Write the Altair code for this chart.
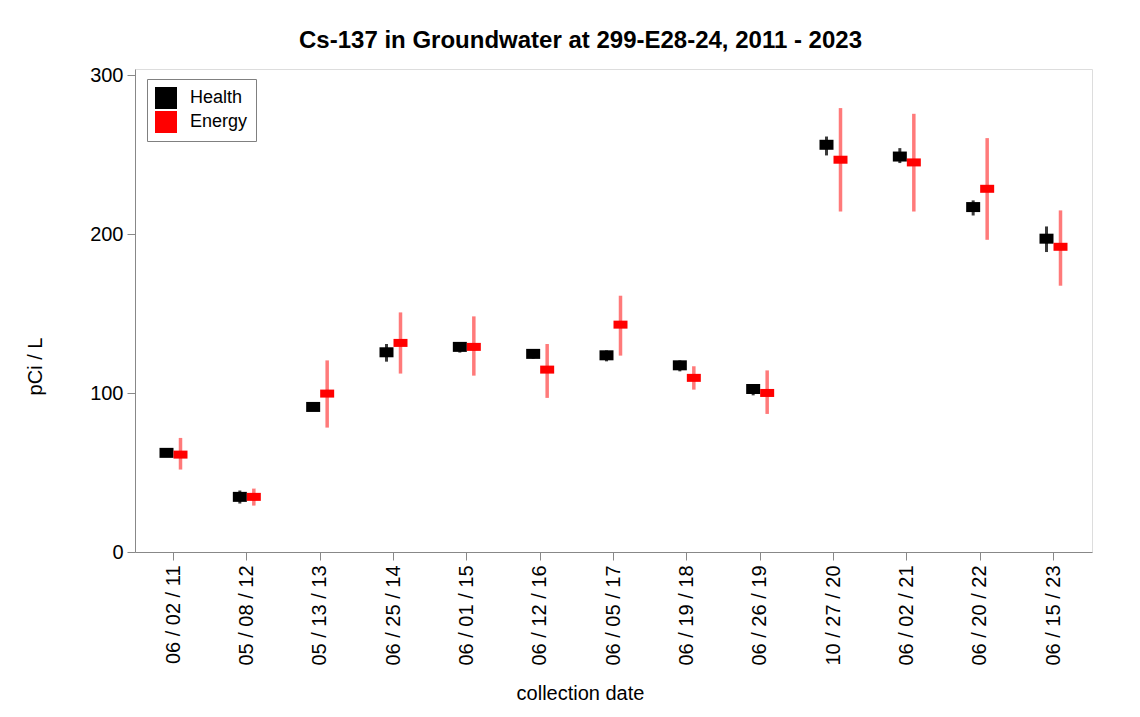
import altair as alt
import pandas as pd

dates = ["06 / 02 / 11", "05 / 08 / 12", "05 / 13 / 13", "06 / 25 / 14", "06 / 01 / 15",
         "06 / 12 / 16", "06 / 05 / 17", "06 / 19 / 18", "06 / 26 / 19", "10 / 27 / 20",
         "06 / 02 / 21", "06 / 20 / 22", "06 / 15 / 23"]

health = [62.4, 34.7, 91.3, 125.7, 129.1, 124.7, 123.8, 117.5, 102.6, 256.3, 248.9, 217.1, 197.2]
health_hi = [63.8, 38.7, 92.5, 130.9, 131.8, 127.4, 126.9, 120.6, 105.3, 261.5, 254.2, 221.3, 204.9]
health_lo = [61.0, 30.5, 90.0, 119.8, 125.5, 121.7, 120.0, 113.7, 98.6, 249.6, 244.8, 211.8, 188.8]

energy = [61.3, 34.7, 99.7, 131.6, 129.1, 114.8, 143.1, 109.6, 100.1, 246.9, 245.2, 228.6, 192.1]
energy_hi = [71.8, 39.9, 120.6, 150.8, 148.3, 130.9, 161.3, 116.9, 114.3, 279.4, 275.8, 260.5, 215.0]
energy_lo = [51.9, 29.2, 78.3, 112.3, 111.0, 97.0, 123.6, 102.2, 86.9, 214.3, 214.3, 196.5, 167.6]

series = ["Health", "Energy"]
colors = ["black", "red"]

df_h = pd.DataFrame({"date": dates, "value": health, "hi": health_hi, "lo": health_lo, "series": "Health"})
df_e = pd.DataFrame({"date": dates, "value": energy, "hi": energy_hi, "lo": energy_lo, "series": "Energy"})

x_enc = alt.X("date:N", sort=dates,
              scale=alt.Scale(paddingInner=0, paddingOuter=0.025),
              axis=alt.Axis(title="collection date", labelAngle=270, labelFontSize=20,
                            labelPadding=5, tickSize=8, titleFontSize=20, grid=False,
                            titleFontWeight="normal", titleY=141, titleX=445,
                            titleBaseline="middle"))
y_enc = alt.Y("value:Q", scale=alt.Scale(domain=[0, 304], nice=False, zero=False),
              axis=alt.Axis(title="pCi / L", values=[0, 100, 200, 300], labelFontSize=20,
                            labelPadding=4, tickSize=8, titleFontSize=20, grid=False,
                            titleFontWeight="normal", titleX=-100, titleY=297,
                            titleAngle=270, titleBaseline="middle", titleAlign="center"))

color_enc = alt.Color("series:N", scale=alt.Scale(domain=series, range=colors),
                      legend=alt.Legend(title=None, orient="none", legendX=12, legendY=10,
                                        symbolType="square", symbolSize=484,
                                        symbolStrokeWidth=0, labelFontSize=18,
                                        labelOffset=13, rowPadding=2, padding=8,
                                        strokeColor="#808080", fillColor="white",
                                        labelExpr="datum.label + '\u00a0\u00a0\u00a0\u00a0\u00a0\u00a0\u00a0\u00a0\u00a0'"))

y_err = alt.Y("lo:Q", scale=alt.Scale(domain=[0, 304], nice=False), axis=alt.Axis(grid=False))

err_h = alt.Chart(df_h).mark_rule(strokeWidth=3, color="#3a3a3a", xOffset=-7).encode(
    x=x_enc, y=y_err, y2="hi:Q")
pt_h = alt.Chart(df_h).mark_tick(size=14, thickness=10, opacity=1, xOffset=-7).encode(
    x=x_enc, y=y_enc, color=color_enc)
err_e = alt.Chart(df_e).mark_rule(strokeWidth=3.5, color="#ff7a7a", xOffset=7).encode(
    x=x_enc, y=y_err, y2="hi:Q")
pt_e = alt.Chart(df_e).mark_tick(size=14, thickness=8, opacity=1, xOffset=7).encode(
    x=x_enc, y=y_enc, color=color_enc)

chart = alt.layer(err_h, pt_h, err_e, pt_e).properties(
    width=957, height=483,
    title=alt.TitleParams("Cs-137 in Groundwater at 299-E28-24,  2011 - 2023",
                          fontSize=24, fontWeight="bold", font="Liberation Sans",
                          anchor="middle", dx=-33, dy=29, offset=22, baseline="alphabetic",
                          color="black"),
    autosize=alt.AutoSizeParams(type="none"),
    padding={"left": 127, "top": 61, "right": 40, "bottom": 160},
).configure_view(
    stroke="#b0b0b0", strokeWidth=2
).configure_axis(
    grid=False, domainColor="#a8a8a8", domainWidth=2, tickColor="#a8a8a8", tickWidth=2,
    labelColor="black", titleColor="black", labelFont="Liberation Sans",
    titleFont="Liberation Sans"
).configure_legend(
    labelFont="Liberation Sans", labelColor="black", strokeWidth=2
).configure(background="white")

chart.save("out.html", embed_options={"renderer": "svg", "actions": False})
